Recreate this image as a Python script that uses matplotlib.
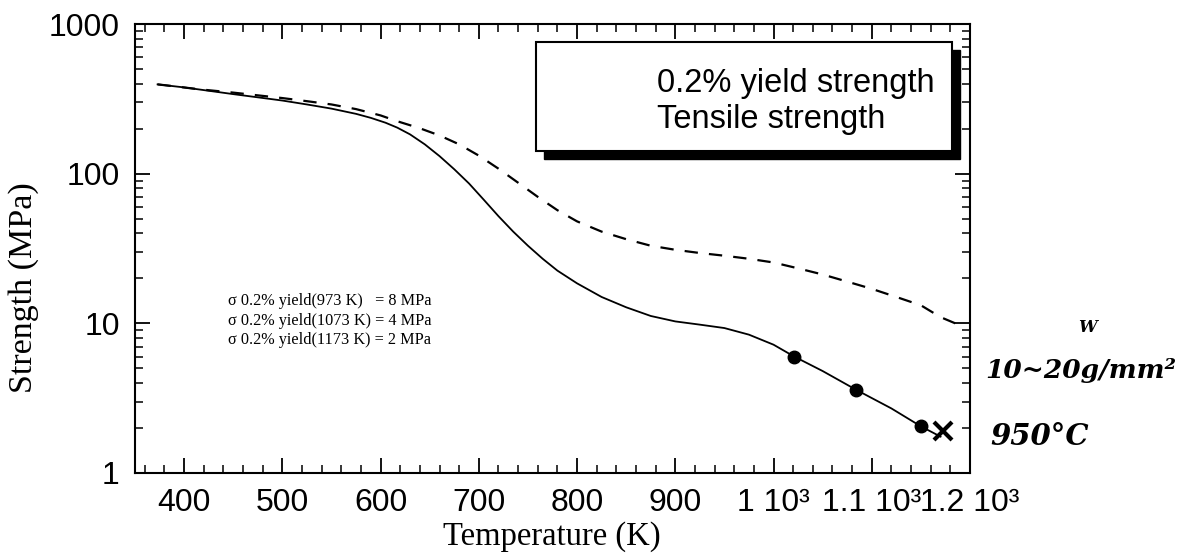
import matplotlib
matplotlib.use("Agg")
import matplotlib.pyplot as plt
from matplotlib.patches import Rectangle
from matplotlib.ticker import FixedLocator, NullFormatter, MultipleLocator, LogLocator

# ---- data ----
yield_T = [373, 400, 450, 500, 525, 550, 575, 590, 605, 617, 630, 645, 660, 675, 690,
           705, 720, 735, 750, 765, 780, 800, 825, 850, 875, 900, 925, 950, 975,
           1000, 1021, 1050, 1084, 1120, 1150, 1170]
yield_MPa = [395, 377, 340, 308, 290, 272, 251, 236, 219, 203, 183, 157, 131, 107, 86,
             67, 52, 41, 33, 27, 22.5, 18.5, 15, 12.8, 11.2, 10.3, 9.8, 9.3, 8.4,
             7.2, 6.0, 4.8, 3.6, 2.7, 2.05, 1.75]

tensile_T = [373, 416, 450, 500, 525, 550, 575, 600, 617, 640, 660, 680, 700, 720,
             740, 760, 780, 800, 825, 850, 875, 900, 925, 950, 975, 1000, 1025,
             1050, 1075, 1100, 1125, 1150, 1170, 1185]
tensile_MPa = [395, 366, 348, 320, 305, 290, 270, 245, 224, 201, 180, 157, 132, 108,
               87, 70, 57, 48, 41, 36.5, 33, 31, 29.5, 28.3, 27, 25.5, 23.3,
               21.2, 19, 17, 15, 13.2, 11, 10]

dot_T = [1021, 1084, 1150]
dot_MPa = [6.0, 3.6, 2.05]

cross_T = [1173]
cross_MPa = [1.9]

xticks = [400, 500, 600, 700, 800, 900, 1000, 1100, 1200]
xticklabels = ["400", "500", "600", "700", "800", "900", "1 10³", "1.1 10³", "1.2 10³"]
yticks = [1, 10, 100, 1000]
yticklabels = ["1", "10", "100", "1000"]

legend_lines = ["0.2% yield strength", "Tensile strength"]
note_lines = ["σ 0.2% yield(973 K)   = 8 MPa",
              "σ 0.2% yield(1073 K) = 4 MPa",
              "σ 0.2% yield(1173 K) = 2 MPa"]

SANS = ["Liberation Sans", "DejaVu Sans"]
SERIF = ["Liberation Serif", "DejaVu Serif"]

W, H = 1194, 559
fig = plt.figure(figsize=(W / 100, H / 100), dpi=100)
ax = fig.add_axes([135 / W, 1 - 473 / H, (970 - 135) / W, (473 - 24) / H])

ax.plot(yield_T, yield_MPa, color="black", lw=1.3, solid_joinstyle="round")
ax.plot(tensile_T, tensile_MPa, color="black", lw=1.6, linestyle=(0, (6, 5)))
ax.plot(dot_T, dot_MPa, "o", color="black", ms=9)
ax.plot(cross_T, cross_MPa, "x", color="black", ms=13, mew=3)

ax.set_yscale("log")
ax.set_xlim(350, 1200)
ax.set_ylim(1, 1000)

ax.xaxis.set_major_locator(FixedLocator(xticks))
ax.set_xticklabels(xticklabels, fontfamily=SANS, fontsize=23)
ax.xaxis.set_minor_locator(MultipleLocator(20))
ax.yaxis.set_major_locator(FixedLocator(yticks))
ax.set_yticklabels(yticklabels, fontfamily=SANS, fontsize=23)
ax.yaxis.set_minor_locator(LogLocator(base=10, subs=range(2, 10)))
ax.yaxis.set_minor_formatter(NullFormatter())

ax.tick_params(which="both", direction="in", top=True, right=True, color="black")
ax.tick_params(which="major", length=11, width=1.3, pad=11)
ax.tick_params(which="minor", length=5.5, width=1.1)
for s in ax.spines.values():
    s.set_linewidth(1.5)

fig.text(552 / W, 1 - 545 / H, "Temperature (K)", ha="center", va="baseline",
         fontfamily=SERIF, fontsize=23.5)
fig.text(24 / W, 1 - 288 / H, "Strength (MPa)", ha="center", va="center",
         rotation=90, fontfamily=SERIF, fontsize=24.5)

# legend-like box with shadow (figure pixel coordinates -> axes fraction)
def ax_frac(px, py):
    return ((px - 135) / 835, (473 - py) / 449)

x0, y0 = ax_frac(536, 151)
x1, y1 = ax_frac(952, 42)
sx, sy = 8 / 835, 8 / 449
ax.add_patch(Rectangle((x0 + sx, y0 - sy), x1 - x0, y1 - y0, transform=ax.transAxes,
                       facecolor="black", edgecolor="black", zorder=5))
ax.add_patch(Rectangle((x0, y0), x1 - x0, y1 - y0, transform=ax.transAxes,
                       facecolor="white", edgecolor="black", lw=1.5, zorder=6))
tx, ty = ax_frac(657, 92)
ax.text(tx, ty, legend_lines[0], transform=ax.transAxes, fontfamily=SANS,
        fontsize=23.5, va="baseline", ha="left", zorder=7)
tx, ty = ax_frac(657, 128)
ax.text(tx, ty, legend_lines[1], transform=ax.transAxes, fontfamily=SANS,
        fontsize=23.5, va="baseline", ha="left", zorder=7)

for line, py in zip(note_lines, [305, 325, 344]):
    nx, ny = ax_frac(228, py)
    ax.text(nx, ny, line, transform=ax.transAxes, fontfamily=SERIF,
            fontsize=11.7, va="baseline", ha="left")

# handwritten notes (outside the axes)
HAND = ["DejaVu Serif", "DejaVu Sans"]
fig.text(985 / W, 1 - 378 / H, "10~20g/mm²", fontfamily=HAND, fontsize=19,
         fontweight="bold", fontstyle="italic", va="baseline", ha="left")
fig.text(1078 / W, 1 - 332 / H, "W", fontfamily=HAND, fontsize=12,
         fontweight="bold", fontstyle="italic", va="baseline", ha="left")
fig.text(990 / W, 1 - 445 / H, "950°C", fontfamily=HAND, fontsize=21,
         fontweight="bold", fontstyle="italic", va="baseline", ha="left")

fig.savefig("out.png", dpi=100)
